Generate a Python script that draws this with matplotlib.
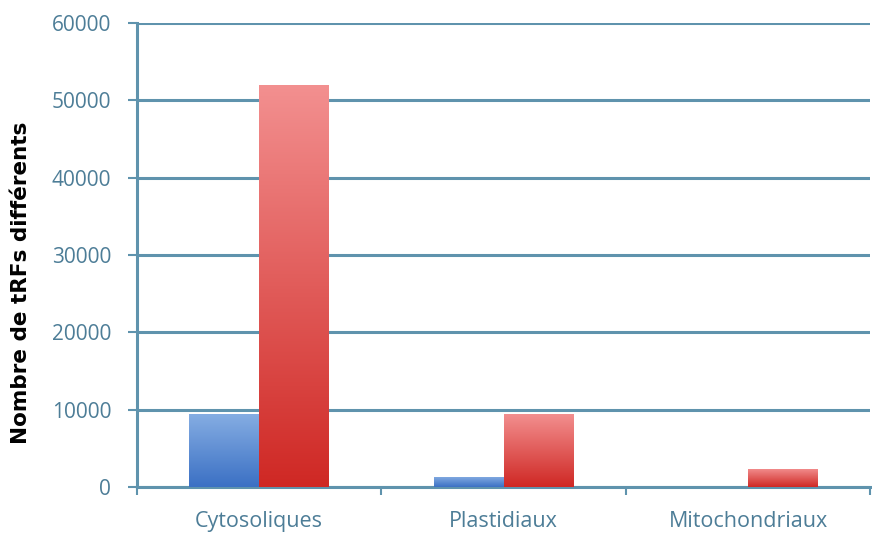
import matplotlib
matplotlib.use('Agg')
import matplotlib.pyplot as plt
import numpy as np
from matplotlib.colors import LinearSegmentedColormap

categories = ['Cytosoliques', 'Plastidiaux', 'Mitochondriaux']
serie_bleue = [9500, 1300, 60]
serie_rouge = [52000, 9500, 2400]
yticks = [0, 10000, 20000, 30000, 40000, 50000, 60000]

grid_col = '#5f93ad'
label_col = '#4d7d97'


def gradient_bars(ax, bars, top_col, bottom_col):
	cmap = LinearSegmentedColormap.from_list('g', [bottom_col, top_col])
	grad = np.linspace(0, 1, 256).reshape(-1, 1)
	for b in bars:
		x0, y0 = b.get_x(), b.get_y()
		w, h = b.get_width(), b.get_height()
		if h <= 0:
			continue
		im = ax.imshow(grad, cmap=cmap, origin='lower', aspect='auto',
			extent=[x0, x0 + w, y0, y0 + h], zorder=3)
		im.set_clip_path(b)
		b.set_facecolor('none')


def main():
	fig = plt.figure(figsize=(8.72, 5.37), dpi=100, facecolor='w')
	ax = fig.add_axes([0.157, 0.093, 0.841, 0.864])

	x = np.arange(len(categories))
	w = 0.286
	b1 = ax.bar(x - w / 2, serie_bleue, w, color='#5585d0', linewidth=0, zorder=3)
	b2 = ax.bar(x + w / 2, serie_rouge, w, color='#dd4340', linewidth=0, zorder=3)
	gradient_bars(ax, b1, '#86aee3', '#3b70c4')
	gradient_bars(ax, b2, '#f39090', '#cf2824')

	ax.set_xlim(-0.5, 2.5)
	ax.set_ylim(0, 60000)
	ax.set_yticks(yticks)
	ax.set_yticklabels([str(v) for v in yticks], color=label_col,
		fontsize=15, family='Open Sans')
	ax.yaxis.grid(True, color=grid_col, linewidth=2.2, zorder=0)
	ax.set_axisbelow(True)

	ax.set_xticks(x)
	ax.set_xticklabels(categories, color=label_col, fontsize=15.5, family='Open Sans')
	ax.tick_params(axis='x', length=0, pad=17)
	ax.set_xticks([-0.5, 0.5, 1.5, 2.5], minor=True)
	ax.tick_params(axis='x', which='minor', length=6, width=1.5, color=grid_col,
		direction='out')
	ax.tick_params(axis='y', length=6.5, width=1.5, color=grid_col, pad=12)

	for s in ['top', 'right']:
		ax.spines[s].set_visible(False)
	for s in ['left', 'bottom']:
		ax.spines[s].set_color(grid_col)
		ax.spines[s].set_linewidth(2.2)

	ax.set_ylabel('Nombre de tRFs différents', fontsize=15.5, fontweight='bold',
		family='DejaVu Sans')
	ax.yaxis.set_label_coords(-0.144, 0.44)

	fig.savefig('out.png', dpi=100)


if __name__ == '__main__':
	main()
